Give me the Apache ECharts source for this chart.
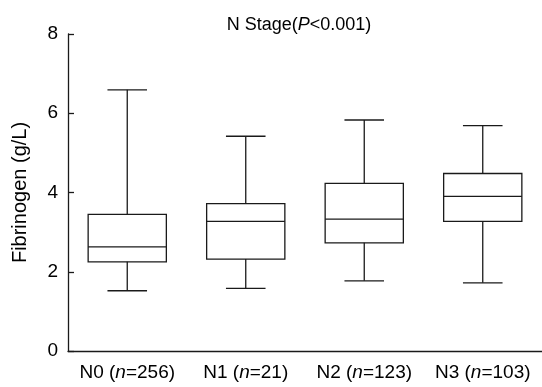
<!DOCTYPE html>
<html><head><meta charset="utf-8">
<script src="https://cdn.jsdelivr.net/npm/echarts@6/dist/echarts.min.js"></script>
<style>html,body{margin:0;padding:0;background:#fff}#c{width:542px;height:387px}</style>
</head><body><div id="c"></div>
<script>
const stages = ['N0', 'N1', 'N2', 'N3'];
const counts = ['256', '21', '123', '103'];
const whiskerLow = [1.52, 1.58, 1.77, 1.72];
const q1 = [2.25, 2.32, 2.73, 3.27];
const median = [2.63, 3.27, 3.33, 3.90];
const q3 = [3.45, 3.72, 4.23, 4.48];
const whiskerHigh = [6.59, 5.42, 5.83, 5.69];
const yTicks = [0, 2, 4, 6, 8];

const FONT = '"Liberation Sans", Arial, sans-serif';
const INK = '#1a1a1a';
const FS = 19;
const data = stages.map((s, i) => [i, whiskerLow[i], q1[i], median[i], q3[i], whiskerHigh[i]]);

const chart = echarts.init(document.getElementById('c'), null, {renderer: 'canvas'});
chart.setOption({
  animation: false,
  backgroundColor: '#fff',
  title: {
    text: '{a|N Stage(}{b|P}{a|<0.001)}',
    left: 294, top: 11, textAlign: 'center',
    textStyle: {
      fontWeight: 'normal',
      rich: {
        a: {fontFamily: FONT, fontSize: 18, color: '#000', fontWeight: 'normal'},
        b: {fontFamily: FONT, fontSize: 18, color: '#000', fontStyle: 'italic', fontWeight: 'normal'}
      }
    }
  },
  grid: {left: 68, top: 34, width: 478, bottom: 36, containLabel: false},
  xAxis: {
    type: 'category',
    data: stages,
    boundaryGap: true,
    axisLine: {lineStyle: {color: INK, width: 1.3}},
    axisTick: {inside: true, length: 6, alignWithLabel: true, lineStyle: {color: INK, width: 1.3}},
    axisLabel: {
      interval: 0,
      margin: 12,
      formatter: (v, i) => '{a|' + v + ' (}{b|n}{a|=' + counts[i] + ')}',
      rich: {
        a: {fontFamily: FONT, fontSize: FS, color: '#000'},
        b: {fontFamily: FONT, fontSize: FS, color: '#000', fontStyle: 'italic'}
      }
    },
    splitLine: {show: false}
  },
  yAxis: {
    type: 'value',
    min: yTicks[0], max: yTicks[yTicks.length - 1], interval: 2,
    name: 'Fibrinogen (g/L)',
    nameLocation: 'middle',
    nameGap: 38,
    nameTextStyle: {fontFamily: FONT, fontSize: 20, color: '#000'},
    axisLine: {show: true, lineStyle: {color: INK, width: 1.3}},
    axisTick: {show: true, inside: true, length: 6, lineStyle: {color: INK, width: 1.3}},
    axisLabel: {margin: 10, fontFamily: FONT, fontSize: FS, color: '#000'},
    splitLine: {show: false}
  },
  series: [{
    type: 'custom',
    data: data,
    encode: {x: 0, y: [1, 2, 3, 4, 5]},
    renderItem: function (params, api) {
      const x = api.value(0);
      const band = api.size([1, 0])[0];
      const bw = band * 0.33;
      const cw = band * 0.167;
      const pLow = api.coord([x, api.value(1)]);
      const pQ1 = api.coord([x, api.value(2)]);
      const pMed = api.coord([x, api.value(3)]);
      const pQ3 = api.coord([x, api.value(4)]);
      const pHigh = api.coord([x, api.value(5)]);
      const cx = pLow[0];
      const st = {stroke: INK, lineWidth: 1.3, fill: null};
      return {
        type: 'group',
        children: [
          {type: 'rect', shape: {x: cx - bw, y: pQ3[1], width: bw * 2, height: pQ1[1] - pQ3[1]}, style: {stroke: INK, lineWidth: 1.3, fill: '#fff'}},
          {type: 'line', shape: {x1: cx - bw, y1: pMed[1], x2: cx + bw, y2: pMed[1]}, style: st},
          {type: 'line', shape: {x1: cx, y1: pQ3[1], x2: cx, y2: pHigh[1]}, style: st},
          {type: 'line', shape: {x1: cx, y1: pQ1[1], x2: cx, y2: pLow[1]}, style: st},
          {type: 'line', shape: {x1: cx - cw, y1: pHigh[1], x2: cx + cw, y2: pHigh[1]}, style: st},
          {type: 'line', shape: {x1: cx - cw, y1: pLow[1], x2: cx + cw, y2: pLow[1]}, style: st}
        ]
      };
    }
  }]
});
</script>
</body></html>
